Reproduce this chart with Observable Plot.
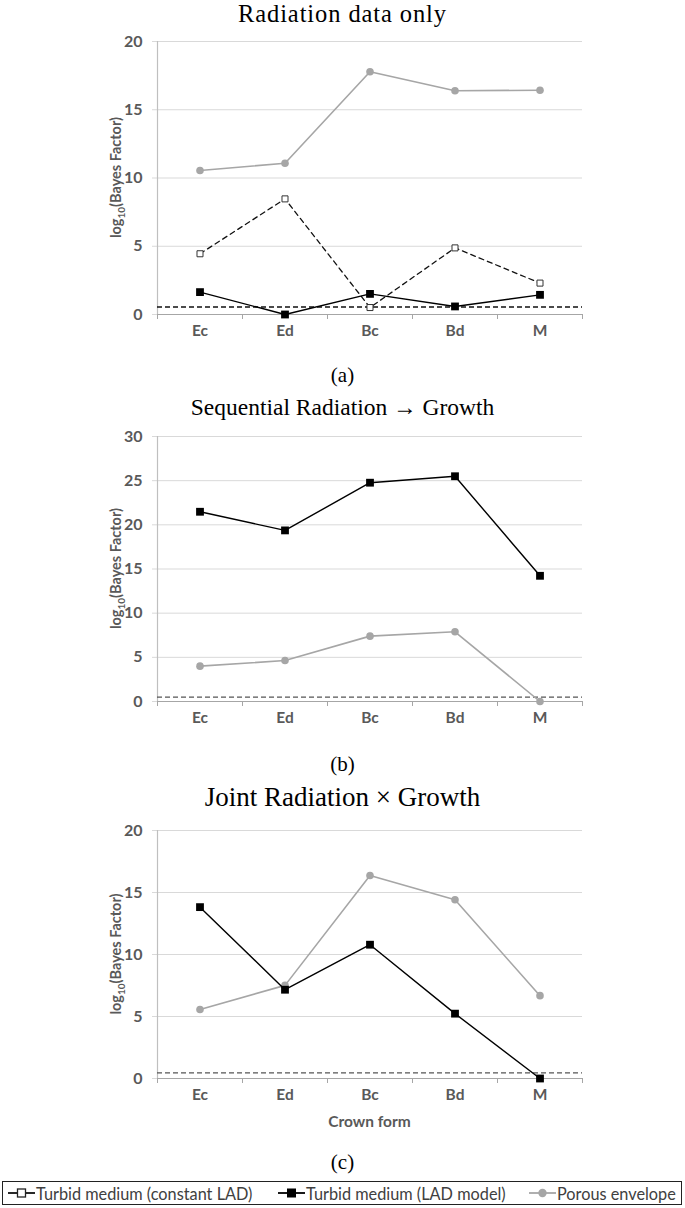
<!DOCTYPE html>
<html><head><meta charset="utf-8">
<script src="https://cdn.jsdelivr.net/npm/d3@7"></script>
<script src="https://cdn.jsdelivr.net/npm/@observablehq/plot@0.6"></script>
<style>
body{margin:0;background:#fff;}
#root{position:relative;width:685px;height:1208px;overflow:hidden;background:#fff;}
.title,.sub{position:absolute;left:0;width:685px;text-align:center;font-family:"Liberation Serif","Times New Roman",serif;color:#000;white-space:nowrap;}
.title{line-height:26px;}
.sub{font-size:21px;line-height:26px;}
.panel{position:absolute;left:0;}
#legend{position:absolute;left:2px;top:1181px;width:678px;height:22px;border:1.5px solid #222;font-family:Lato,sans-serif;font-size:16.3px;color:#404040;}
.item{position:absolute;top:0;height:22px;display:flex;align-items:center;white-space:nowrap;}
.item svg{margin-right:1px;}
</style></head>
<body><div id="root"></div>
<script>
// ---- data ----
const categories = ["Ec", "Ed", "Bc", "Bd", "M"];
const seriesNames = ["Turbid medium (constant LAD)", "Turbid medium (LAD model)", "Porous envelope"];
const titles = ["Radiation data only", "Sequential Radiation \u2192 Growth", "Joint Radiation \u00d7 Growth"];
const subLabels = ["(a)", "(b)", "(c)"];
const yLabelMain = "log";
const yLabelSub = "10";
const yLabelRest = "(Bayes Factor)";
const xLabel = "Crown form";
const yTicksA = [0, 5, 10, 15, 20];
const yTicksB = [0, 5, 10, 15, 20, 25, 30];
const yTicksC = [0, 5, 10, 15, 20];
const thresholds = [0.55, 0.5, 0.45];

const radConst  = [4.45, 8.47, 0.51, 4.88, 2.30];
const radLad    = [1.64, 0.00, 1.51, 0.59, 1.44];
const radPorous = [10.55, 11.08, 17.78, 16.39, 16.43];
const seqLad    = [21.48, 19.37, 24.77, 25.50, 14.23];
const seqPorous = [4.00, 4.64, 7.40, 7.89, 0.00];
const jointLad    = [13.82, 7.16, 10.79, 5.23, 0.00];
const jointPorous = [5.56, 7.51, 16.37, 14.41, 6.68];

// ---- styles ----
const GRAY = "#a6a6a6";
const styles = {
  [seriesNames[0]]: {line: {stroke: "#111", strokeWidth: 1.3, strokeDasharray: "5,4"}, dot: {symbol: "square", r: 3.4, fill: "#fff", stroke: "#333", strokeWidth: 1}},
  [seriesNames[1]]: {line: {stroke: "#000", strokeWidth: 1.4}, dot: {symbol: "square", r: 4.4, fill: "#000", stroke: "none"}},
  [seriesNames[2]]: {line: {stroke: GRAY, strokeWidth: 1.6}, dot: {symbol: "circle", r: 3.8, fill: GRAY, stroke: "none"}}
};

const root = document.getElementById("root");
const idx = categories.map((c, i) => i);
const xDomain = [-0.5, categories.length - 0.5];
const bounds = d3.range(categories.length + 1).map(i => i - 0.5);

function makePanel({series, yTicks, threshold, thrColor, top, height, marginBottom, showXLabel}) {
  const marks = [
    Plot.gridY(yTicks, {stroke: "#d9d9d9", strokeOpacity: 1, strokeWidth: 1}),
    Plot.axisY({ticks: yTicks, tickSize: 5, tickPadding: 10, stroke: "#d9d9d9", strokeOpacity: 1, fill: "#595959", fontWeight: "bold", fontSize: 16, label: null}),
    Plot.ruleX([xDomain[0]], {stroke: "#bfbfbf", strokeWidth: 1.2}),
    Plot.axisX({ticks: bounds, tickSize: 5, tickFormat: () => "", stroke: "#a6a6a6", label: null}),
    Plot.axisX({ticks: idx, tickSize: 0, tickPadding: 10, tickFormat: i => categories[i], fill: "#595959", fontWeight: "bold", fontSize: 15.5, label: null}),
    Plot.ruleY([0], {stroke: "#a6a6a6", strokeWidth: 1.2}),
    Plot.ruleY([threshold], {stroke: thrColor, strokeWidth: 1.3, strokeDasharray: "5,3"})
  ];
  for (const [name, values] of series) {
    const data = values.map((v, i) => ({i, v}));
    const st = styles[name];
    marks.push(Plot.line(data, {x: "i", y: "v", ...st.line}));
    marks.push(Plot.dot(data, {x: "i", y: "v", ...st.dot}));
  }
  const chart = Plot.plot({
    width: 685, height, marginTop: 10, marginBottom, marginLeft: 157, marginRight: 103,
    x: {domain: xDomain, axis: null},
    y: {domain: [yTicks[0], yTicks[yTicks.length - 1]], axis: null},
    style: {fontFamily: "Lato, sans-serif", background: "#fff", overflow: "visible"},
    marks
  });
  const yr = chart.scale("y").range;
  const cy = (yr[0] + yr[1]) / 2;
  const svg = d3.select(chart);
  const t = svg.append("text")
    .attr("transform", `translate(121,${cy}) rotate(-90)`)
    .attr("text-anchor", "middle")
    .attr("font-family", "Lato, sans-serif").attr("font-weight", "bold").attr("font-size", 14.5).attr("fill", "#595959");
  t.append("tspan").text(yLabelMain);
  t.append("tspan").attr("font-size", 10).attr("dy", 4).text(yLabelSub);
  t.append("tspan").attr("dy", -4).text(yLabelRest);
  if (showXLabel) {
    const xr = chart.scale("x").range;
    svg.append("text").attr("x", (xr[0] + xr[1]) / 2).attr("y", yr[0] + 49)
      .attr("text-anchor", "middle").attr("font-family", "Lato, sans-serif").attr("font-weight", "bold")
      .attr("font-size", 15.5).attr("fill", "#595959").text(xLabel);
  }
  chart.classList.add("panel");
  chart.style.top = top + "px";
  chart.style.position = "absolute";
  root.appendChild(chart);
}

function addText(cls, text, top, size, spacing) {
  const d = document.createElement("div");
  d.className = cls; d.textContent = text; d.style.top = top + "px";
  if (size) { d.style.fontSize = size + "px"; d.style.lineHeight = size + "px"; }
  if (spacing) d.style.letterSpacing = spacing + "px";
  root.appendChild(d);
}

addText("title", titles[0], 1.5, 24.5, 0.9);
makePanel({series: [[seriesNames[2], radPorous], [seriesNames[0], radConst], [seriesNames[1], radLad]], yTicks: yTicksA, threshold: thresholds[0], thrColor: "#111", top: 31, height: 313, marginBottom: 30});
addText("sub", subLabels[0], 362);
addText("title", titles[1], 396, 23.5);
makePanel({series: [[seriesNames[2], seqPorous], [seriesNames[1], seqLad]], yTicks: yTicksB, threshold: thresholds[1], thrColor: "#555", top: 426, height: 305, marginBottom: 30});
addText("sub", subLabels[1], 751);
addText("title", titles[2], 784, 27);
makePanel({series: [[seriesNames[2], jointPorous], [seriesNames[1], jointLad]], yTicks: yTicksC, threshold: thresholds[2], thrColor: "#555", top: 820, height: 313, marginBottom: 55, showXLabel: true});
addText("sub", subLabels[2], 1149);

// ---- legend ----
const legend = document.createElement("div");
legend.id = "legend";
const itemLefts = [5, 275, 526];
seriesNames.forEach((name, k) => {
  const st = styles[name];
  const it = document.createElement("div");
  it.className = "item";
  it.style.left = itemLefts[k] + "px";
  const s = d3.create("svg").attr("width", 27).attr("height", 12);
  s.append("line").attr("x1", 0).attr("x2", 27).attr("y1", 6).attr("y2", 6).attr("stroke", st.line.stroke).attr("stroke-width", 1.8);
  if (st.dot.symbol === "square") {
    const side = k === 0 ? 8 : 9;
    s.append("rect").attr("x", 13.5 - side / 2).attr("y", 6 - side / 2).attr("width", side).attr("height", side)
      .attr("fill", st.dot.fill).attr("stroke", k === 0 ? "#222" : "none").attr("stroke-width", 1.3);
  } else {
    s.append("circle").attr("cx", 13.5).attr("cy", 6).attr("r", 4.2).attr("fill", st.dot.fill);
  }
  it.appendChild(s.node());
  const sp = document.createElement("span");
  sp.textContent = name;
  it.appendChild(sp);
  legend.appendChild(it);
});
root.appendChild(legend);
</script>
</body></html>
